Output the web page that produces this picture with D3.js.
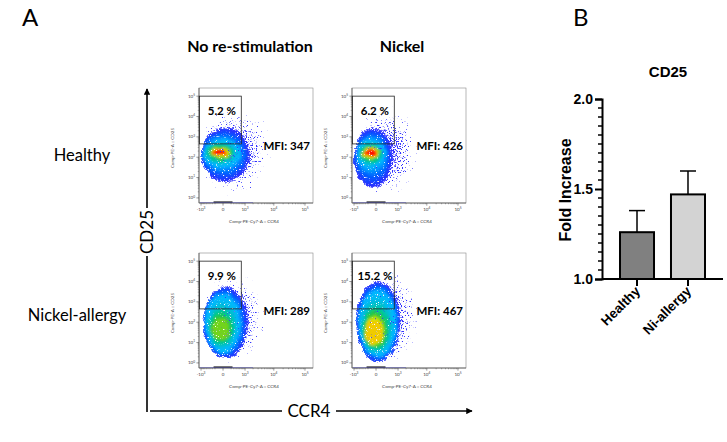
<!DOCTYPE html>
<html>
<head>
<meta charset="utf-8">
<title>CD25 / CCR4</title>
<script src="https://d3js.org/d3.v7.min.js"></script>
<style>
  body { margin: 0; background: #fff; }
</style>
</head>
<body>
<script>
// ---- panel A : flow plots (row = donor group, column = stimulation)
var rowNames = ["Healthy", "Nickel-allergy"]
var colNames = ["No re-stimulation", "Nickel"]
var gatePct = [5.2, 6.2, 9.9, 15.2]      // TL, TR, BL, BR
var mfi = [347, 426, 289, 467]
var gateCcr4 = [-1150, 700]
var gateCd25 = [450, 100000]
// cell clouds: sparse halo, dense edge, cyan edge, core
// each box is [ccr4 lo, ccr4 hi, cd25 lo, cd25 hi]
var cloudTL = [[-1150, 9000, 1, 40000], [-1100, 1550, 6, 2750], [-750, 620, 33, 700], [-310, 60, 130, 230]]
var cloudTR = [[-1150, 6000, 0.9, 40000], [-1100, 560, 3.1, 2750], [-750, 235, 30, 700], [-350, 20, 115, 230]]
var cloudBL = [[-1150, 6000, 0.7, 35000], [-900, 1300, 1.6, 5500], [-640, 600, 3.5, 2200], [-300, 150, 14, 150]]
var cloudBR = [[-1150, 7000, 0.6, 50000], [-900, 1200, 1.0, 10000], [-580, 820, 2.3, 3500], [-310, 170, 8, 130]]
var clouds = [cloudTL, cloudTR, cloudBL, cloudBR]
var peak = [1, 1, 0.67, 0.8]
var xMajor = [-1000, 0, 1000, 10000, 100000]
var xMajorLab = [["-10", "3"], ["0", ""], ["10", "3"], ["10", "4"], ["10", "5"]]
var yMajor = [1, 10, 100, 1000, 10000, 100000]

// ---- panel B : bar chart
var groups = ["Healthy", "Ni-allergy"]
var foldMean = [1.26, 1.47]
var foldErr = [0.12, 0.13]
var foldTicks = [1.0, 1.5, 2.0]

var W = 727, H = 442
var svg = d3.select("body").append("svg")
    .attr("width", W)
    .attr("height", H)
    .style("font-family", "Lato, 'Open Sans', sans-serif")

var defs = svg.append("defs")

function alphaOnly(f, inp, out) {
    f.append("feColorMatrix").attr("in", inp).attr("type", "matrix")
        .attr("values", "0 0 0 0 0  0 0 0 0 0  0 0 0 0 0  0 0 0 1 0").attr("result", out)
}

// sparse events: noise thresholded by the shape's own alpha
var sp = defs.append("filter").attr("id", "speckle")
    .attr("x", "-10%").attr("y", "-10%").attr("width", "120%").attr("height", "120%")
sp.append("feTurbulence").attr("type", "fractalNoise").attr("baseFrequency", 0.8)
    .attr("numOctaves", 2).attr("seed", 7).attr("result", "noise")
alphaOnly(sp, "noise", "na")
sp.append("feComposite").attr("in", "na").attr("in2", "SourceAlpha").attr("operator", "arithmetic")
    .attr("k1", 0).attr("k2", 9).attr("k3", 5).attr("k4", -8.4).attr("result", "mask")
sp.append("feFlood").attr("flood-color", "#3030ff").attr("result", "fl")
sp.append("feComposite").attr("in", "fl").attr("in2", "mask").attr("operator", "in")

// dense part: wobbly rings, grainy edge
var dn = defs.append("filter").attr("id", "dense")
    .attr("x", "-20%").attr("y", "-20%").attr("width", "140%").attr("height", "140%")
dn.append("feTurbulence").attr("type", "fractalNoise").attr("baseFrequency", 0.22)
    .attr("numOctaves", 2).attr("seed", 3).attr("result", "warp")
dn.append("feDisplacementMap").attr("in", "SourceGraphic").attr("in2", "warp").attr("scale", 5)
    .attr("xChannelSelector", "R").attr("yChannelSelector", "G").attr("result", "d")
dn.append("feGaussianBlur").attr("in", "d").attr("stdDeviation", 0.8).attr("result", "b")
dn.append("feTurbulence").attr("type", "fractalNoise").attr("baseFrequency", 0.85)
    .attr("numOctaves", 2).attr("seed", 11).attr("result", "fine")
alphaOnly(dn, "fine", "na")
dn.append("feComposite").attr("in", "na").attr("in2", "b").attr("operator", "arithmetic")
    .attr("k1", 0).attr("k2", 8).attr("k3", 8).attr("k4", -10).attr("result", "mask")
dn.append("feComposite").attr("in", "b").attr("in2", "mask").attr("operator", "in")

var halo = defs.append("radialGradient").attr("id", "halo")
halo.append("stop").attr("offset", "0").attr("stop-color", "#000").attr("stop-opacity", 1)
halo.append("stop").attr("offset", "0.6").attr("stop-color", "#000").attr("stop-opacity", 0.6)
halo.append("stop").attr("offset", "1").attr("stop-color", "#000").attr("stop-opacity", 0.22)

var arrowHead = defs.append("marker").attr("id", "head")
    .attr("viewBox", "0 0 10 10").attr("refX", 9).attr("refY", 5)
    .attr("markerWidth", 4).attr("markerHeight", 4).attr("orient", "auto")
arrowHead.append("path").attr("d", "M0,0L10,5L0,10z").attr("fill", "#000")

var jet = d3.scaleLinear()
    .domain([0, 0.15, 0.3, 0.48, 0.62, 0.76, 0.88, 1])
    .range(["#2a2aff", "#0060ff", "#00b8ff", "#00c890", "#30c830", "#e8e800", "#ff9000", "#ff1000"])

// panel letters
svg.append("text").attr("x", 22).attr("y", 26).attr("font-size", 24).text("A")
svg.append("text").attr("x", 573).attr("y", 26).attr("font-size", 24).text("B")

// plot geometry
var colX = [199, 352], rowY = [88, 253], PW = 114, PH = 115
var colHeadX = [250, 402]

colNames.forEach(function (c, i) {
    svg.append("text").attr("x", colHeadX[i]).attr("y", 52)
        .attr("text-anchor", "middle").attr("font-size", 16).attr("font-weight", "bold").text(c)
})
var rowLabX = [82, 77], rowLabY = [161, 321]
rowNames.forEach(function (r, i) {
    svg.append("text").attr("x", rowLabX[i]).attr("y", rowLabY[i])
        .attr("text-anchor", "middle").attr("font-size", 16.5).text(r)
})

// big axis arrows
svg.append("line").attr("x1", 147).attr("y1", 412).attr("x2", 147).attr("y2", 89)
    .attr("stroke", "#000").attr("stroke-width", 1.6).attr("marker-end", "url(#head)")
svg.append("rect").attr("x", 138).attr("y", 208).attr("width", 18).attr("height", 48).attr("fill", "#fff")
svg.append("text").attr("transform", "translate(153,232) rotate(-90)")
    .attr("text-anchor", "middle").attr("font-size", 17).text("CD25")
svg.append("line").attr("x1", 150).attr("y1", 411).attr("x2", 472).attr("y2", 411)
    .attr("stroke", "#000").attr("stroke-width", 1.6).attr("marker-end", "url(#head)")
svg.append("rect").attr("x", 282).attr("y", 401).attr("width", 54).attr("height", 20).attr("fill", "#fff")
svg.append("text").attr("x", 309).attr("y", 417)
    .attr("text-anchor", "middle").attr("font-size", 17).text("CCR4")

function toEllipse(b, x, y) {
    var xa = x(b[0]), xb = x(b[1]), ya = y(b[2]), yb = y(b[3])
    return { cx: (xa + xb) / 2, cy: (ya + yb) / 2, rx: Math.abs(xb - xa) / 2, ry: Math.abs(ya - yb) / 2 }
}
function lerpE(a, b, t) {
    return { cx: a.cx + (b.cx - a.cx) * t, cy: a.cy + (b.cy - a.cy) * t,
             rx: a.rx + (b.rx - a.rx) * t, ry: a.ry + (b.ry - a.ry) * t }
}

clouds.forEach(function (cloud, k) {
    var r = Math.floor(k / 2), c = k % 2
    var x0 = colX[c], y0 = rowY[r]
    var x = d3.scaleSymlog().constant(250).domain([-1200, 180000]).range([x0, x0 + PW])
    var y = d3.scaleLog().domain([Math.pow(10, -0.25), Math.pow(10, 5.4)]).range([y0 + PH, y0])
    var g = svg.append("g")

    defs.append("clipPath").attr("id", "clip" + k)
        .append("rect").attr("x", x0).attr("y", y0).attr("width", PW).attr("height", PH)

    var area = g.append("g").attr("clip-path", "url(#clip" + k + ")")

    // sparse halo
    var e0 = toEllipse(cloud[0], x, y)
    area.append("ellipse").attr("cx", e0.cx).attr("cy", e0.cy).attr("rx", e0.rx).attr("ry", e0.ry)
        .attr("fill", "url(#halo)").attr("filter", "url(#speckle)")

    // dense part, rings from outside in
    var e1 = toEllipse(cloud[1], x, y), e2 = toEllipse(cloud[2], x, y), e3 = toEllipse(cloud[3], x, y)
    var rings = [{ e: lerpE(e1, e0, 0.18), t: 0, op: 0.62 }]
    var n1 = 8, n2 = 16
    for (var i = 0; i < n1; i++) rings.push({ e: lerpE(e1, e2, i / n1), t: 0.3 * i / n1, op: 1 })
    for (var j = 0; j <= n2; j++) {
        rings.push({ e: lerpE(e2, e3, j / n2), t: 0.3 + (peak[k] - 0.3) * Math.pow(j / n2, 2.0), op: 1 })
    }
    var dense = area.append("g").attr("filter", "url(#dense)")
    dense.selectAll("ellipse").data(rings).join("ellipse")
        .attr("cx", function (d) { return d.e.cx })
        .attr("cy", function (d) { return d.e.cy })
        .attr("rx", function (d) { return d.e.rx })
        .attr("ry", function (d) { return d.e.ry })
        .attr("fill", function (d) { return jet(d.t) })
        .attr("fill-opacity", function (d) { return d.op })

    // events piled on the x axis near zero
    area.append("rect").attr("x", x(-250)).attr("y", y0 + PH - 1.6).attr("width", x(250) - x(-250)).attr("height", 1.6)
        .attr("fill", "#222")
    area.append("rect").attr("x", x(-1100)).attr("y", y0 + PH - 0.9).attr("width", x(2000) - x(-1100)).attr("height", 0.9)
        .attr("fill", "#5050ff").attr("opacity", 0.6)

    // frame
    g.append("rect").attr("x", x0).attr("y", y0).attr("width", PW).attr("height", PH)
        .attr("fill", "none").attr("stroke", "#888").attr("stroke-width", 0.6)
    g.append("line").attr("x1", x0).attr("x2", x0).attr("y1", y0).attr("y2", y0 + PH)
        .attr("stroke", "#333").attr("stroke-width", 0.6)
    g.append("line").attr("x1", x0).attr("x2", x0 + PW).attr("y1", y0 + PH).attr("y2", y0 + PH)
        .attr("stroke", "#333").attr("stroke-width", 0.6)

    // y ticks
    var yMinor = []
    for (var p = 0; p < 5; p++) for (var m = 2; m < 10; m++) yMinor.push(m * Math.pow(10, p))
    g.selectAll(".ymin").data(yMinor).join("line")
        .attr("x1", x0 - 1.3).attr("x2", x0).attr("y1", y).attr("y2", y)
        .attr("stroke", "#444").attr("stroke-width", 0.4)
    g.selectAll(".ymaj").data(yMajor).join("line")
        .attr("x1", x0 - 2.6).attr("x2", x0).attr("y1", y).attr("y2", y)
        .attr("stroke", "#333").attr("stroke-width", 0.5)
    var yl = g.selectAll(".ylab").data(yMajor).join("text")
        .attr("x", x0 - 4).attr("y", function (d) { return y(d) + 1.5 })
        .attr("text-anchor", "end").attr("font-size", 4.5).attr("fill", "#444")
    yl.append("tspan").text("10")
    yl.append("tspan").attr("dy", -1.6).attr("font-size", 3.2).text(function (d, i) { return i })

    // x ticks
    var xMinor = []
    for (var m2 = 2; m2 < 10; m2++) {
        xMinor.push(-m2 * 100, m2 * 100, m2 * 1000, m2 * 10000)
    }
    g.selectAll(".xmin").data(xMinor.filter(function (d) { return d < 180000 })).join("line")
        .attr("x1", x).attr("x2", x).attr("y1", y0 + PH).attr("y2", y0 + PH + 1.3)
        .attr("stroke", "#444").attr("stroke-width", 0.4)
    g.selectAll(".xmaj").data(xMajor).join("line")
        .attr("x1", x).attr("x2", x).attr("y1", y0 + PH).attr("y2", y0 + PH + 2.6)
        .attr("stroke", "#333").attr("stroke-width", 0.5)
    var xl = g.selectAll(".xlab").data(xMajor).join("text")
        .attr("x", x).attr("y", y0 + PH + 8)
        .attr("text-anchor", "middle").attr("font-size", 4.5).attr("fill", "#444")
    xl.append("tspan").text(function (d, i) { return xMajorLab[i][0] })
    xl.append("tspan").attr("dy", -1.6).attr("font-size", 3.2).text(function (d, i) { return xMajorLab[i][1] })

    // axis names
    g.append("text").attr("x", x0 + PW / 2 - 2).attr("y", y0 + PH + 20)
        .attr("text-anchor", "middle").attr("font-size", 4.6).attr("fill", "#444")
        .text("Comp-PE-Cy7-A :: CCR4")
    g.append("text").attr("transform", "translate(" + (x0 - 25) + "," + (y0 + 60) + ") rotate(-90)")
        .attr("text-anchor", "middle").attr("font-size", 4.6).attr("fill", "#444")
        .text("Comp-PE-A :: CD25")

    // gate
    var gx = x(gateCcr4[0]), gy = y(gateCd25[1])
    var gw = x(gateCcr4[1]) - gx, gh = y(gateCd25[0]) - gy
    g.append("rect").attr("x", gx).attr("y", gy).attr("width", gw).attr("height", gh)
        .attr("fill", "none").attr("stroke", "#222").attr("stroke-width", 0.8)
    g.append("text").attr("x", gx + gw / 2 + 1.5).attr("y", gy + 19)
        .attr("text-anchor", "middle").attr("font-size", 11.5).attr("font-weight", "bold")
        .text(gatePct[k].toFixed(1) + " %")

    g.append("text").attr("x", x0 + 111).attr("y", y0 + 62)
        .attr("text-anchor", "end").attr("font-size", 11.5).attr("font-weight", "bold")
        .text("MFI: " + mfi[k])
})

// ---- panel B
var bx = d3.scaleBand().domain(groups).range([602, 723]).paddingInner(0.333).paddingOuter(0.353)
var by = d3.scaleLinear().domain([1, 2]).range([279, 99])
var bFont = "'Liberation Sans', Arial, sans-serif"
var gb = svg.append("g").style("font-family", bFont)

gb.append("text").attr("x", 668).attr("y", 77).attr("text-anchor", "middle")
    .attr("font-size", 15).attr("font-weight", "bold").text("CD25")
gb.append("text").attr("transform", "translate(571,190) rotate(-90)").attr("text-anchor", "middle")
    .attr("font-size", 16).attr("font-weight", "bold").text("Fold Increase")

// error bars (upper only), drawn before the bars
gb.selectAll(".err").data(groups).join("line")
    .attr("x1", function (d) { return bx(d) + bx.bandwidth() / 2 })
    .attr("x2", function (d) { return bx(d) + bx.bandwidth() / 2 })
    .attr("y1", function (d, i) { return by(foldMean[i]) })
    .attr("y2", function (d, i) { return by(foldMean[i] + foldErr[i]) })
    .attr("stroke", "#000").attr("stroke-width", 1.5)
gb.selectAll(".cap").data(groups).join("line")
    .attr("x1", function (d) { return bx(d) + bx.bandwidth() / 2 - 8 })
    .attr("x2", function (d) { return bx(d) + bx.bandwidth() / 2 + 8 })
    .attr("y1", function (d, i) { return by(foldMean[i] + foldErr[i]) })
    .attr("y2", function (d, i) { return by(foldMean[i] + foldErr[i]) })
    .attr("stroke", "#000").attr("stroke-width", 1.5)

var barFill = ["#808080", "#d3d3d3"]
gb.selectAll(".bar").data(groups).join("rect")
    .attr("x", function (d) { return bx(d) })
    .attr("width", bx.bandwidth())
    .attr("y", function (d, i) { return by(foldMean[i]) })
    .attr("height", function (d, i) { return by(1) - by(foldMean[i]) })
    .attr("fill", function (d, i) { return barFill[i] })
    .attr("stroke", "#000").attr("stroke-width", 2)

// y axis
var yAxis = d3.axisLeft(by).tickValues(foldTicks).tickFormat(d3.format(".1f")).tickSize(7).tickPadding(2)
var ya = gb.append("g").attr("transform", "translate(602,0)").call(yAxis)
ya.select(".domain").attr("stroke-width", 2)
ya.selectAll(".tick line").attr("stroke-width", 2)
ya.selectAll("text").attr("font-size", 14).attr("font-weight", "bold").attr("font-family", bFont)
ya.selectAll(".minor").data(d3.range(21).map(function (i) { return 1 + i * 0.05 })
        .filter(function (v) { return Math.abs(v * 2 - Math.round(v * 2)) > 1e-6 }))
    .join("line").attr("class", "minor")
    .attr("x1", -4).attr("x2", 0).attr("y1", by).attr("y2", by)
    .attr("stroke", "#000").attr("stroke-width", 1.5)

// x axis
var xAxis = d3.axisBottom(bx).tickSize(7).tickFormat("")
var xa = gb.append("g").attr("transform", "translate(0,279)").call(xAxis)
xa.select(".domain").attr("d", "M602,0H723").attr("stroke-width", 2)
xa.selectAll(".tick line").attr("stroke-width", 2)
gb.selectAll(".glab").data(groups).join("text")
    .attr("transform", function (d) { return "translate(" + (bx(d) + bx.bandwidth() / 2 + 4) + ",292) rotate(-45)" })
    .attr("text-anchor", "end").attr("font-size", 13.5).attr("font-weight", "bold")
    .attr("font-family", bFont)
    .text(function (d) { return d })
</script>
</body>
</html>
